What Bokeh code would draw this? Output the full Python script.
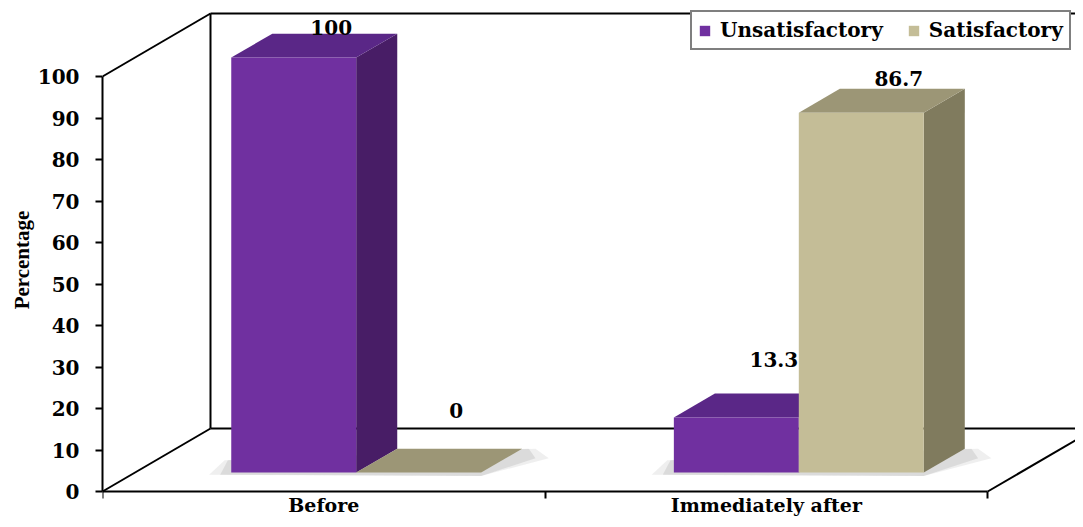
from bokeh.plotting import figure
from bokeh.models import Range1d, LinearAxis, FixedTicker, Legend, LegendItem
from bokeh.embed import file_html
from bokeh.resources import INLINE
from bokeh.core.properties import value

# ---- data ----
categories = ["Before", "Immediately after"]
series_names = ["Unsatisfactory", "Satisfactory"]
unsatisfactory = [100, 13.3]
satisfactory = [0, 86.7]
label_texts = [["100", "13.3"], ["0", "86.7"]]
y_ticks = [0, 10, 20, 30, 40, 50, 60, 70, 80, 90, 100]

# ---- styling / 3D geometry (category units on x, percent units on y) ----
front_cols = ["#7030A0", "#C4BD97"]
top_cols = ["#5A2787", "#9C9676"]
side_cols = ["#481D66", "#807B5E"]
DX, DY = 0.244, 15.18      # depth of the floor/back wall
D0, D1 = 0.30, 0.68        # bar depth span as fraction of DX/DY
W = 0.2823                 # bar width
FONT = "DejaVu Serif"
PX_X, PX_Y = 442.6, 4.15   # pixels per unit
LEFT, W_FIG, H_FIG, FLOOR = 102, 1075, 519, 491

p = figure(width=W_FIG, height=H_FIG, output_backend="svg", toolbar_location=None,
           x_range=Range1d(0, (W_FIG - LEFT) / PX_X),
           y_range=Range1d(-(H_FIG - FLOOR) / PX_Y, FLOOR / PX_Y),
           min_border_left=LEFT, min_border_right=0, min_border_top=0, min_border_bottom=0,
           x_axis_location=None, y_axis_location=None)
p.outline_line_color = None
p.grid.visible = False
p.background_fill_color = "white"
p.border_fill_color = "white"

n = len(categories)
# walls and floor outlines
wall_xs = [[0, DX], [0, DX], [DX, DX], [DX, n + DX], [DX, n + DX], [n, n + DX]]
wall_ys = [[100, 100 + DY], [0, DY], [DY, 100 + DY], [100 + DY, 100 + DY], [DY, DY], [0, DY]]
p.multi_line(wall_xs, wall_ys, line_color="black", line_width=2)

# soft shadows at bar bases
ddx, ddy = (D1 - D0) * DX, (D1 - D0) * DY
for grow, alpha in [(0.05, 0.10), (0.025, 0.14)]:
    sh_xs, sh_ys = [], []
    for i in range(n):
        x0 = i + 0.5 - W + D0 * DX
        x1 = i + 0.5 + W + D0 * DX
        yb = D0 * DY
        sh_xs.append([x0 - grow, x1, x1 + ddx + grow * 1.2, x1 + ddx + grow * 0.6, x0 - grow * 0.3])
        sh_ys.append([yb - 0.5, yb - 0.8, yb + ddy * 0.6, yb + ddy, yb + 3.0])
    p.patches(sh_xs, sh_ys, fill_color="#606060", fill_alpha=alpha, line_color=None)

renderers = []
all_vals = [unsatisfactory, satisfactory]
lab_x, lab_y, lab_t = [], [], []
for j, vals in enumerate(all_vals):
    fx, fy, tx, ty, sx, sy = [], [], [], [], [], []
    for i, v in enumerate(vals):
        x0 = i + 0.5 - W + j * W + D0 * DX
        x1 = x0 + W
        yb = D0 * DY
        yt = yb + v
        fx.append([x0, x1, x1, x0]); fy.append([yb, yb, yt, yt])
        tx.append([x0, x1, x1 + ddx, x0 + ddx]); ty.append([yt, yt, yt + ddy, yt + ddy])
        sx.append([x1, x1 + ddx, x1 + ddx, x1]); sy.append([yb, yb + ddy, yt + ddy, yt])
        lab_x.append(x0 + W / 2 + ddx - 0.008)
        lab_y.append(19.5 + 0.923 * v)
        lab_t.append(label_texts[j][i])
    p.patches(sx, sy, fill_color=side_cols[j], line_color=None)
    p.patches(tx, ty, fill_color=top_cols[j], line_color=None)
    r = p.patches(fx, fy, fill_color=front_cols[j], line_color=None)
    renderers.append(r)

p.text(x=lab_x, y=lab_y, text=lab_t, text_font=value(FONT), text_font_style="bold",
       text_font_size="20px", text_align="center", text_baseline="middle", text_color="black")

yaxis = LinearAxis(ticker=FixedTicker(ticks=y_ticks, minor_ticks=[]), bounds=(0, 100),
                   axis_line_width=2, axis_line_color="black",
                   major_tick_line_width=2, major_tick_out=7, major_tick_in=0,
                   minor_tick_line_color=None,
                   major_label_text_font=FONT, major_label_text_font_style="bold",
                   major_label_text_font_size="20px", major_label_text_color="black",
                   major_label_standoff=16,
                   axis_label="Percentage", axis_label_text_font="Liberation Serif",
                   axis_label_text_font_style="bold", axis_label_text_font_size="21px",
                   axis_label_text_color="black", axis_label_standoff=1)
p.add_layout(yaxis, "left")

cat_ticks = [i + 0.5 for i in range(n)]
xaxis = LinearAxis(ticker=FixedTicker(ticks=cat_ticks, minor_ticks=list(range(n + 1))),
                   fixed_location=0, bounds=(0, n), axis_line_width=2, axis_line_color="black",
                   major_tick_line_color=None, major_tick_out=0, major_tick_in=0,
                   minor_tick_line_color="black", minor_tick_line_width=2,
                   minor_tick_out=7, minor_tick_in=0,
                   major_label_overrides={t: c for t, c in zip(cat_ticks, categories)},
                   major_label_text_font=FONT, major_label_text_font_style="bold",
                   major_label_text_font_size="19px", major_label_text_color="black",
                   major_label_standoff=-5)
p.add_layout(xaxis, "below")

legend = Legend(items=[LegendItem(label=series_names[k], renderers=[renderers[k]]) for k in range(2)],
                orientation="horizontal", location=(588, 469),
                border_line_color="black", border_line_width=2,
                label_text_font=FONT, label_text_font_style="bold", label_text_font_size="20px",
                label_text_color="black", padding=6, spacing=24, label_standoff=9,
                glyph_width=13, glyph_height=13, margin=0, background_fill_alpha=1)
p.add_layout(legend, "center")

open("out.html", "w").write(file_html(p, INLINE))
